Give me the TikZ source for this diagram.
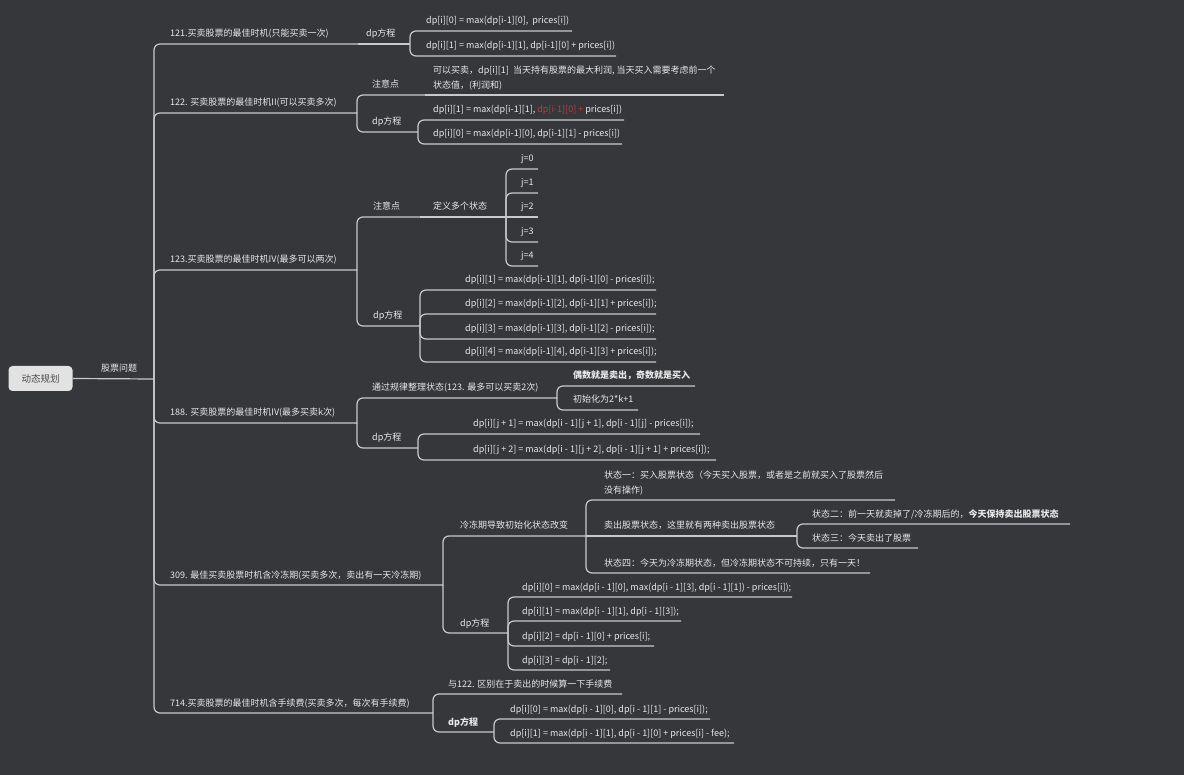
\documentclass[tikz,border=0pt]{standalone}
\usepackage{fontspec}
\setmainfont{Noto Sans CJK SC}
\definecolor{bgc}{HTML}{36373B}
\definecolor{linec}{HTML}{C9C9C9}
\definecolor{txtc}{HTML}{E8E8E8}
\definecolor{redc}{HTML}{C23B2E}
\definecolor{rootc}{HTML}{E2E2E2}
\definecolor{roott}{HTML}{4A4A4A}
\tikzset{
  conn/.style={draw=linec, line width=1.2pt, rounded corners=6pt},
  lbl/.style={text=txtc, inner sep=0pt, anchor=base west, align=left, font=\fontsize{9}{15}\selectfont},
  rootbox/.style={fill=rootc, rounded corners=4pt, minimum width=64pt, minimum height=25pt, inner sep=0pt, text=roott, font=\fontsize{9.5}{12}\selectfont}
}
\begin{document}
\begin{tikzpicture}[x=1pt,y=-1pt]
\fill[bgc] (0,0) rectangle (1184,775);
\useasboundingbox (0,0) rectangle (1184,775);

% root
\node[rootbox] (root) at (40.5,378.5) {动态规划};
\coordinate (J0) at (154,379);
\draw[conn] (root.east) -- (J0);
\node[lbl] (t0) at (101,372) {股票问题};

% level 1 junctions
\coordinate (J121) at (358,44);
\coordinate (J122) at (357,113);
\coordinate (J123) at (357,270);
\coordinate (J188) at (357,423);
\coordinate (J309) at (443,585);
\coordinate (J714) at (433,713);
\foreach \c in {J121,J122,J123,J188,J309,J714} \draw[conn] (J0) |- (\c);
\node[lbl] (n121) at (170,37) {121.买卖股票的最佳时机(只能买卖一次)};
\node[lbl] (n122) at (170,106) {122. 买卖股票的最佳时机II(可以买卖多次)};
\node[lbl] (n123) at (170,263) {123.买卖股票的最佳时机IV(最多可以两次)};
\node[lbl] (n188) at (170,416) {188. 买卖股票的最佳时机IV(最多买卖k次)};
\node[lbl] (n309) at (170,578) {309. 最佳买卖股票时机含冷冻期(买卖多次，卖出有一天冷冻期)};
\node[lbl] (n714) at (170,706) {714.买卖股票的最佳时机含手续费(买卖多次，每次有手续费)};

% ---------- 121
\coordinate (J121d) at (410,44);
\draw[conn] (J121) -- (J121d);
\node[lbl] (n121d) at (366,37) {dp方程};
\coordinate (E121a) at (572,31);
\coordinate (E121b) at (616,56);
\draw[conn] (J121d) |- (E121a);
\draw[conn] (J121d) |- (E121b);
\node[lbl] (n121a) at (426,24) {dp[i][0] = max(dp[i-1][0],\ \ prices[i])};
\node[lbl] (n121b) at (426,49) {dp[i][1] = max(dp[i-1][1], dp[i-1][0] + prices[i])};

% ---------- 122
\coordinate (J122n) at (425,95);
\coordinate (E122n) at (724,95);
\draw[conn] (J122) |- (J122n);
\draw[conn] (J122n) -- (E122n);
\node[lbl] (n122n) at (372,88) {注意点};
\node[lbl] (n122nt) at (433,88.5) {可以买卖，dp[i][1]\ \ 当天持有股票的最大利润, 当天买入需要考虑前一个\\状态值，(利润和)};
\coordinate (J122d) at (418,132);
\draw[conn] (J122) |- (J122d);
\node[lbl] (n122d) at (372,125) {dp方程};
\coordinate (E122a) at (624,120);
\coordinate (E122b) at (622,144);
\draw[conn] (J122d) |- (E122a);
\draw[conn] (J122d) |- (E122b);
\node[lbl] (n122a) at (433,113) {dp[i][1] = max(dp[i-1][1], \textcolor{redc}{dp[i-1][0] +} prices[i])};
\node[lbl] (n122b) at (433,137) {dp[i][0] = max(dp[i-1][0], dp[i-1][1] - prices[i])};

% ---------- 123
\coordinate (J123n) at (420,217);
\draw[conn] (J123) |- (J123n);
\node[lbl] (n123n) at (373,210) {注意点};
\coordinate (J123s) at (506,217);
\draw[conn] (J123n) -- (J123s);
\node[lbl] (n123s) at (433,210) {定义多个状态};
\coordinate (E123j0) at (538,169);
\coordinate (E123j1) at (538,193);
\coordinate (E123j2) at (538,217);
\coordinate (E123j3) at (538,242);
\coordinate (E123j4) at (538,266);
\draw[conn] (J123s) |- (E123j0);
\draw[conn] (J123s) |- (E123j1);
\draw[conn] (J123s) -- (E123j2);
\draw[conn] (J123s) |- (E123j3);
\draw[conn] (J123s) |- (E123j4);
\node[lbl] (n123j0) at (521,162) {j=0};
\node[lbl] (n123j1) at (521,186) {j=1};
\node[lbl] (n123j2) at (521,210) {j=2};
\node[lbl] (n123j3) at (521,235) {j=3};
\node[lbl] (n123j4) at (521,259) {j=4};
\coordinate (J123d) at (420,326);
\draw[conn] (J123) |- (J123d);
\node[lbl] (n123d) at (373,319) {dp方程};
\coordinate (E123a) at (656,290);
\coordinate (E123b) at (656,314);
\coordinate (E123c) at (656,339);
\coordinate (E123e) at (656,362);
\foreach \c in {E123a,E123b,E123c,E123e} \draw[conn] (J123d) |- (\c);
\node[lbl] (n123a) at (465,283) {dp[i][1] = max(dp[i-1][1], dp[i-1][0] - prices[i]);};
\node[lbl] (n123b) at (465,307) {dp[i][2] = max(dp[i-1][2], dp[i-1][1] + prices[i]);};
\node[lbl] (n123c) at (465,332) {dp[i][3] = max(dp[i-1][3], dp[i-1][2] - prices[i]);};
\node[lbl] (n123e) at (465,355) {dp[i][4] = max(dp[i-1][4], dp[i-1][3] + prices[i]);};

% ---------- 188
\coordinate (J188a) at (557,398);
\draw[conn] (J188) |- (J188a);
\node[lbl] (n188a) at (372,391) {通过规律整理状态(123. 最多可以买卖2次)};
\coordinate (E188a1) at (695,386);
\coordinate (E188a2) at (638,410);
\draw[conn] (J188a) |- (E188a1);
\draw[conn] (J188a) |- (E188a2);
\node[lbl] (n188a1) at (573,379) {\textbf{偶数就是卖出，奇数就是买入}};
\node[lbl] (n188a2) at (573,403) {初始化为2*k+1};
\coordinate (J188d) at (418,448);
\draw[conn] (J188) |- (J188d);
\node[lbl] (n188d) at (372,441) {dp方程};
\coordinate (E188d1) at (700,434);
\coordinate (E188d2) at (716,460);
\draw[conn] (J188d) |- (E188d1);
\draw[conn] (J188d) |- (E188d2);
\node[lbl] (n188d1) at (473,427) {dp[i][j + 1] = max(dp[i - 1][j + 1], dp[i - 1][j] - prices[i]);};
\node[lbl] (n188d2) at (473,453) {dp[i][j + 2] = max(dp[i - 1][j + 2], dp[i - 1][j + 1] + prices[i]);};

% ---------- 309
\coordinate (J309a) at (586,536);
\draw[conn] (J309) |- (J309a);
\node[lbl] (n309a) at (460,529) {冷冻期导致初始化状态改变};
\coordinate (E309s1) at (895,500);
\draw[conn] (J309a) |- (E309s1);
\node[lbl] (n309s1) at (604,493.5) {状态一：买入股票状态（今天买入股票，或者是之前就买入了股票然后\\没有操作)};
\coordinate (J309s) at (797,536);
\draw[conn] (J309a) -- (J309s);
\node[lbl] (n309s) at (604,529) {卖出股票状态，这里就有两种卖出股票状态};
\coordinate (E309s2) at (1070,524);
\coordinate (E309s3) at (918,548);
\draw[conn] (J309s) |- (E309s2);
\draw[conn] (J309s) |- (E309s3);
\node[lbl] (n309s2) at (812,517) {状态二：前一天就卖掉了/冷冻期后的，\textbf{今天保持卖出股票状态}};
\node[lbl] (n309s3) at (812,541) {状态三：今天卖出了股票};
\coordinate (E309s4) at (870,573);
\draw[conn] (J309a) |- (E309s4);
\node[lbl] (n309s4) at (604,566) {状态四：今天为冷冻期状态，但冷冻期状态不可持续，只有一天！};
\coordinate (J309d) at (508,633);
\draw[conn] (J309) |- (J309d);
\node[lbl] (n309d) at (460,626) {dp方程};
\coordinate (E309a) at (792,597);
\coordinate (E309b) at (681,621);
\coordinate (E309c) at (654,646);
\coordinate (E309e) at (610,670);
\foreach \c in {E309a,E309b,E309c,E309e} \draw[conn] (J309d) |- (\c);
\node[lbl] (n309a1) at (522,590) {dp[i][0] = max(dp[i - 1][0], max(dp[i - 1][3], dp[i - 1][1]) - prices[i]);};
\node[lbl] (n309b1) at (522,614) {dp[i][1] = max(dp[i - 1][1], dp[i - 1][3]);};
\node[lbl] (n309c1) at (522,639) {dp[i][2] = dp[i - 1][0] + prices[i];};
\node[lbl] (n309e1) at (522,663) {dp[i][3] = dp[i - 1][2];};

% ---------- 714
\coordinate (E714n) at (622,694);
\draw[conn] (J714) |- (E714n);
\node[lbl] (n714n) at (448,687) {与122. 区别在于卖出的时候算一下手续费};
\coordinate (J714d) at (494,732);
\draw[conn] (J714) |- (J714d);
\node[lbl] (n714d) at (448,725) {\textbf{dp方程}};
\coordinate (E714a) at (710,719);
\coordinate (E714b) at (734,743);
\draw[conn] (J714d) |- (E714a);
\draw[conn] (J714d) |- (E714b);
\node[lbl] (n714a) at (510,712) {dp[i][0] = max(dp[i - 1][0], dp[i - 1][1] - prices[i]);};
\node[lbl] (n714b) at (510,736) {dp[i][1] = max(dp[i - 1][1], dp[i - 1][0] + prices[i] - fee);};
\end{tikzpicture}
\end{document}
